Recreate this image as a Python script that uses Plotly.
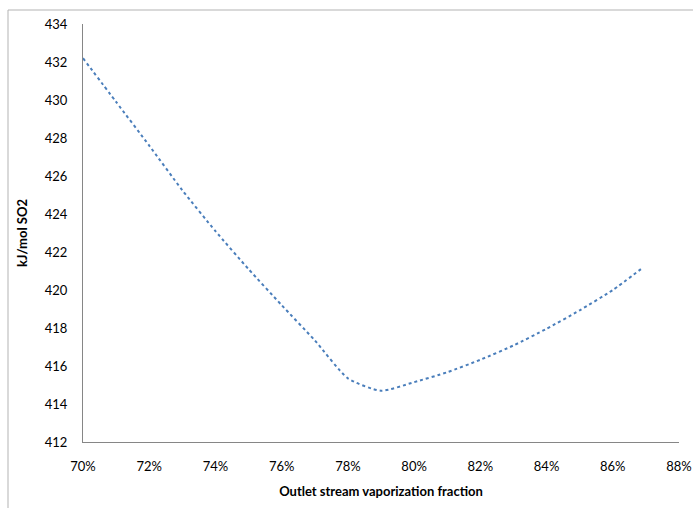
import plotly.graph_objects as go

vap_fraction = [0.70, 0.71, 0.72, 0.73, 0.74, 0.75, 0.76, 0.77, 0.78, 0.79,
                0.80, 0.81, 0.82, 0.83, 0.84, 0.85, 0.86, 0.8685]
energy_kj = [432.2, 429.9, 427.6, 425.25, 423.1, 421.1, 419.2, 417.35, 415.35, 414.7,
             415.15, 415.67, 416.33, 417.08, 417.96, 418.93, 420.0, 421.1]

x_ticks = [0.70, 0.72, 0.74, 0.76, 0.78, 0.80, 0.82, 0.84, 0.86, 0.88]
y_ticks = list(range(412, 435, 2))

FONT = "Lato, Carlito, 'Open Sans', sans-serif"

fig = go.Figure()
fig.add_trace(go.Scatter(
    x=vap_fraction, y=energy_kj, mode="lines",
    line=dict(color="#4a7ebb", width=2, dash="dot", shape="spline", smoothing=0.6),
    showlegend=False, hoverinfo="skip"))

L, R, T, B = 83, 14, 24, 66
W, H = 693, 508
pw, ph = W - L - R, H - T - B

def px_x(p):
    return (p - L) / pw

def px_y(p):
    return (H - B - p) / ph

fig.add_shape(type="rect", xref="paper", yref="paper",
              x0=px_x(8), x1=px_x(700), y0=px_y(520), y1=px_y(10),
              line=dict(color="#b3b3b3", width=1), fillcolor="rgba(0,0,0,0)", layer="below")

fig.update_layout(
    width=W, height=H,
    margin=dict(l=L, r=R, t=T, b=B, autoexpand=False),
    paper_bgcolor="white", plot_bgcolor="white",
    font=dict(family=FONT, size=13, color="#000000"),
    xaxis=dict(range=[0.70, 0.88], tickvals=x_ticks, tickformat=".0%",
               showgrid=False, zeroline=False, showline=True, linecolor="#868686",
               linewidth=1, ticks="", ticklabelstandoff=12, automargin=False,
               title=dict(text="<b>Outlet stream vaporization fraction</b>",
                          font=dict(size=13), standoff=14)),
    yaxis=dict(range=[412, 434], tickvals=y_ticks,
               showgrid=False, zeroline=False, showline=True, linecolor="#868686",
               linewidth=1, ticks="", ticklabelstandoff=12, automargin=False,
               title=dict(text="<b>kJ/mol SO2</b>", font=dict(size=13), standoff=14)),
)

fig.write_html("out.html", config={"displayModeBar": False},
               post_script="document.body.style.margin='0';document.body.style.overflow='hidden';")
